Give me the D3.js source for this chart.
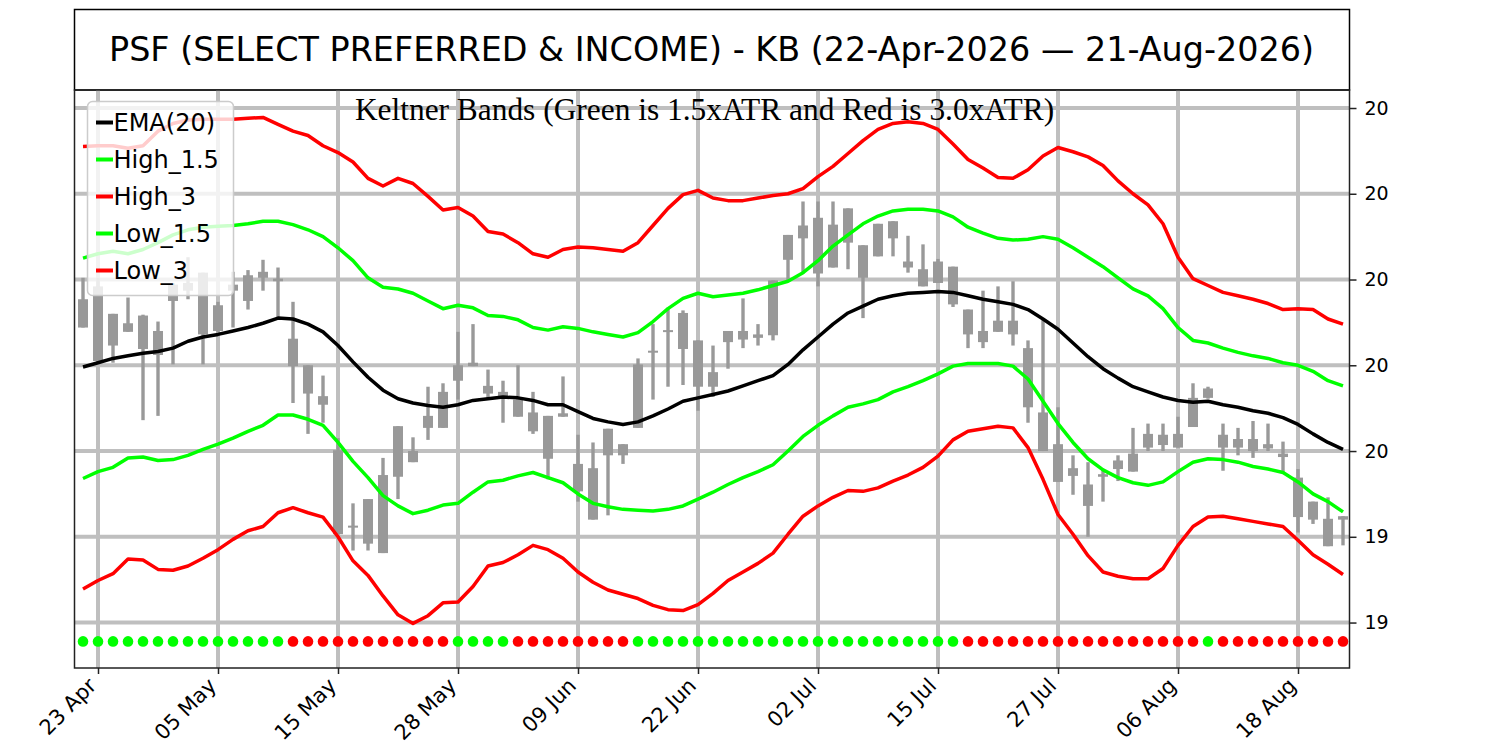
<!DOCTYPE html>
<html>
<head>
<meta charset="utf-8">
<script src="https://cdn.jsdelivr.net/npm/d3@7"></script>
<style>
  body { margin: 0; background: #fff; }
  text { font-family: "DejaVu Sans", sans-serif; }
</style>
</head>
<body>
<div id="chart"></div>
<script>
// trading days 22 Apr 2026 .. 21 Aug 2026
const dates = [
  "2026-04-22","2026-04-23","2026-04-24","2026-04-27","2026-04-28","2026-04-29","2026-04-30",
  "2026-05-01","2026-05-04","2026-05-05","2026-05-06","2026-05-07","2026-05-08","2026-05-11",
  "2026-05-12","2026-05-13","2026-05-14","2026-05-15","2026-05-18","2026-05-19","2026-05-20",
  "2026-05-21","2026-05-22","2026-05-26","2026-05-27","2026-05-28","2026-05-29",
  "2026-06-01","2026-06-02","2026-06-03","2026-06-04","2026-06-05","2026-06-08","2026-06-09",
  "2026-06-10","2026-06-11","2026-06-12","2026-06-15","2026-06-16","2026-06-17","2026-06-18",
  "2026-06-22","2026-06-23","2026-06-24","2026-06-25","2026-06-26","2026-06-29","2026-06-30",
  "2026-07-01","2026-07-02","2026-07-06","2026-07-07","2026-07-08","2026-07-09","2026-07-10",
  "2026-07-13","2026-07-14","2026-07-15","2026-07-16","2026-07-17","2026-07-20","2026-07-21",
  "2026-07-22","2026-07-23","2026-07-24","2026-07-27","2026-07-28","2026-07-29","2026-07-30",
  "2026-07-31","2026-08-03","2026-08-04","2026-08-05","2026-08-06","2026-08-07","2026-08-10",
  "2026-08-11","2026-08-12","2026-08-13","2026-08-14","2026-08-17","2026-08-18","2026-08-19",
  "2026-08-20","2026-08-21"
];

const opens = [
  19.644,19.692,19.623,19.649,19.658,19.612,19.675,19.696,19.636,19.670,
  19.687,19.675,19.702,19.701,19.631,19.600,19.554,19.501,19.413,19.392,
  19.381,19.470,19.500,19.527,19.527,19.582,19.599,19.576,19.569,19.560,
  19.545,19.541,19.540,19.485,19.480,19.495,19.508,19.527,19.615,19.639,
  19.661,19.629,19.575,19.627,19.630,19.636,19.635,19.723,19.748,19.772,
  19.714,19.743,19.740,19.727,19.748,19.721,19.712,19.721,19.715,19.665,
  19.627,19.639,19.652,19.620,19.545,19.508,19.480,19.461,19.470,19.479,
  19.476,19.504,19.519,19.504,19.528,19.562,19.519,19.504,19.514,19.508,
  19.497,19.469,19.420,19.421,19.420
];
const highs = [
  19.702,19.702,19.660,19.679,19.659,19.651,19.696,19.726,19.708,19.674,
  19.709,19.711,19.723,19.714,19.674,19.600,19.588,19.515,19.439,19.444,
  19.492,19.529,19.516,19.575,19.579,19.639,19.648,19.595,19.582,19.600,
  19.569,19.541,19.587,19.519,19.510,19.526,19.508,19.608,19.648,19.667,
  19.664,19.629,19.623,19.640,19.678,19.648,19.699,19.752,19.791,19.791,
  19.791,19.783,19.740,19.765,19.768,19.751,19.741,19.724,19.715,19.665,
  19.687,19.692,19.698,19.629,19.653,19.551,19.495,19.487,19.479,19.495,
  19.527,19.532,19.532,19.540,19.579,19.575,19.532,19.527,19.535,19.532,
  19.511,19.479,19.441,19.446,19.424
];
const lows = [
  19.644,19.603,19.603,19.639,19.536,19.541,19.601,19.677,19.601,19.638,
  19.644,19.665,19.687,19.656,19.556,19.520,19.533,19.403,19.384,19.384,
  19.381,19.444,19.487,19.513,19.527,19.560,19.599,19.560,19.533,19.540,
  19.520,19.467,19.540,19.441,19.420,19.425,19.485,19.527,19.560,19.575,
  19.577,19.547,19.563,19.596,19.620,19.623,19.629,19.698,19.707,19.692,
  19.714,19.712,19.655,19.727,19.727,19.708,19.692,19.696,19.668,19.620,
  19.620,19.639,19.623,19.533,19.500,19.464,19.449,19.400,19.441,19.465,
  19.476,19.500,19.500,19.504,19.528,19.561,19.477,19.495,19.492,19.500,
  19.474,19.405,19.415,19.389,19.390
];
const closes = [
  19.677,19.605,19.660,19.639,19.619,19.640,19.694,19.687,19.708,19.640,
  19.694,19.705,19.709,19.698,19.599,19.567,19.564,19.403,19.411,19.444,
  19.472,19.529,19.487,19.541,19.569,19.600,19.603,19.567,19.564,19.540,
  19.523,19.491,19.544,19.453,19.420,19.526,19.495,19.601,19.617,19.641,
  19.619,19.575,19.592,19.640,19.640,19.632,19.699,19.752,19.763,19.707,
  19.764,19.783,19.702,19.765,19.768,19.714,19.692,19.696,19.671,19.636,
  19.640,19.652,19.636,19.551,19.500,19.464,19.471,19.436,19.473,19.489,
  19.497,19.520,19.507,19.520,19.562,19.573,19.504,19.514,19.500,19.503,
  19.493,19.423,19.441,19.389,19.424
];

const ema20 = [
  19.598,19.603,19.608,19.611,19.614,19.616,19.620,19.628,19.633,19.636,
  19.640,19.644,19.649,19.655,19.654,19.648,19.639,19.623,19.604,19.586,
  19.571,19.561,19.556,19.553,19.551,19.554,19.559,19.561,19.563,19.562,
  19.559,19.554,19.554,19.546,19.538,19.534,19.531,19.534,19.541,19.549,
  19.558,19.562,19.566,19.570,19.576,19.582,19.588,19.601,19.618,19.633,
  19.648,19.661,19.669,19.677,19.681,19.684,19.685,19.686,19.685,19.681,
  19.677,19.674,19.671,19.665,19.654,19.642,19.626,19.610,19.596,19.585,
  19.575,19.569,19.563,19.559,19.557,19.558,19.554,19.551,19.547,19.544,
  19.539,19.531,19.520,19.510,19.502
];
const high15 = [
  19.725,19.730,19.733,19.730,19.735,19.743,19.752,19.758,19.761,19.762,
  19.763,19.765,19.768,19.768,19.764,19.758,19.750,19.737,19.722,19.702,
  19.691,19.689,19.684,19.675,19.666,19.670,19.667,19.658,19.657,19.653,
  19.644,19.641,19.645,19.643,19.639,19.636,19.633,19.638,19.651,19.666,
  19.678,19.684,19.680,19.682,19.684,19.688,19.693,19.698,19.708,19.722,
  19.739,19.752,19.765,19.774,19.780,19.782,19.782,19.780,19.773,19.761,
  19.754,19.748,19.746,19.747,19.750,19.747,19.737,19.726,19.715,19.702,
  19.689,19.681,19.666,19.644,19.629,19.626,19.620,19.615,19.611,19.608,
  19.603,19.600,19.593,19.582,19.576
];
const high3 = [
  19.855,19.856,19.856,19.853,19.856,19.873,19.882,19.886,19.887,19.887,
  19.887,19.888,19.889,19.881,19.873,19.868,19.856,19.848,19.837,19.818,
  19.809,19.818,19.812,19.797,19.781,19.784,19.774,19.756,19.753,19.743,
  19.730,19.726,19.735,19.738,19.737,19.735,19.733,19.743,19.763,19.783,
  19.799,19.804,19.795,19.792,19.792,19.795,19.798,19.800,19.806,19.820,
  19.832,19.847,19.862,19.875,19.882,19.884,19.882,19.875,19.858,19.840,
  19.830,19.819,19.818,19.828,19.844,19.854,19.849,19.843,19.833,19.815,
  19.800,19.787,19.765,19.726,19.701,19.693,19.685,19.681,19.677,19.672,
  19.665,19.666,19.665,19.654,19.648
];
const low15 = [
  19.468,19.476,19.481,19.492,19.493,19.489,19.490,19.495,19.502,19.508,
  19.515,19.523,19.530,19.542,19.542,19.537,19.530,19.510,19.488,19.469,
  19.448,19.436,19.427,19.431,19.437,19.439,19.452,19.464,19.466,19.471,
  19.475,19.469,19.463,19.450,19.439,19.435,19.432,19.431,19.430,19.432,
  19.436,19.444,19.452,19.461,19.469,19.476,19.484,19.500,19.517,19.530,
  19.541,19.551,19.555,19.560,19.569,19.575,19.582,19.590,19.599,19.602,
  19.602,19.602,19.599,19.584,19.558,19.532,19.510,19.491,19.478,19.469,
  19.463,19.460,19.464,19.476,19.487,19.491,19.490,19.487,19.482,19.479,
  19.475,19.464,19.450,19.441,19.429
];
const low3 = [
  19.339,19.349,19.357,19.374,19.373,19.362,19.361,19.366,19.375,19.385,
  19.397,19.407,19.412,19.428,19.434,19.428,19.423,19.400,19.372,19.355,
  19.331,19.309,19.299,19.308,19.323,19.324,19.342,19.366,19.370,19.379,
  19.390,19.385,19.375,19.359,19.347,19.338,19.333,19.328,19.320,19.315,
  19.314,19.321,19.334,19.349,19.359,19.369,19.381,19.403,19.424,19.436,
  19.446,19.454,19.453,19.457,19.465,19.472,19.481,19.494,19.513,19.523,
  19.526,19.529,19.527,19.504,19.467,19.426,19.403,19.378,19.359,19.354,
  19.351,19.351,19.363,19.390,19.412,19.423,19.424,19.421,19.418,19.415,
  19.412,19.396,19.379,19.368,19.356
];

// 1 = green dot, 0 = red dot
const signal = [
  1,1,1,1,1,1,1,1,1,1,1,1,1,1,
  0,0,0,0,0,0,0,0,0,0,0,
  1,1,1,1,
  0,0,0,0,0,0,0,0,
  1,1,1,1,1,1,1,1,1,1,1,1,1,1,1,1,1,1,1,1,1,1,
  0,0,0,0,0,0,0,0,0,0,0,0,0,0,0,0,
  1,
  0,0,0,0,0,0,0,0,0
];
const signalLevel = 19.278;

const yTicks = [19.3, 19.4, 19.5, 19.6, 19.7, 19.8, 19.9];
const xTickIdx = [1, 9, 17, 25, 33, 41, 49, 57, 65, 73, 81];

const seriesInfo = [
  { name: "EMA(20)", values: ema20, color: "#000000" },
  { name: "High_1.5", values: high15, color: "#00ff00" },
  { name: "High_3", values: high3, color: "#ff0000" },
  { name: "Low_1.5", values: low15, color: "#00ff00" },
  { name: "Low_3", values: low3, color: "#ff0000" }
];

const width = 1500, height = 750;
const box = { left: 74.5, right: 1349.5, top: 90, bottom: 668 };

const svg = d3.select("#chart").append("svg")
  .attr("width", width)
  .attr("height", height);

const x = d3.scaleLinear().domain([-0.567, 84.433]).range([box.left, box.right]);
const y = d3.scaleLinear().domain([19.247, 19.921]).range([box.bottom, box.top]);

// title box
svg.append("rect")
  .attr("x", box.left).attr("y", 9.5)
  .attr("width", box.right - box.left).attr("height", box.top - 9.5)
  .attr("fill", "none").attr("stroke", "#000").attr("stroke-width", 1.5);
svg.append("text")
  .attr("x", 711.5).attr("y", 61)
  .attr("text-anchor", "middle")
  .style("font-size", "33.4px")
  .text("PSF (SELECT PREFERRED & INCOME) - KB (22-Apr-2026 \u2014 21-Aug-2026)");

const plot = svg.append("g");

// grid
plot.append("g").selectAll("line.hg")
  .data(yTicks).enter().append("line")
  .attr("x1", box.left).attr("x2", box.right)
  .attr("y1", d => y(d)).attr("y2", d => y(d))
  .attr("stroke", "#bfbfbf").attr("stroke-width", 4);
plot.append("g").selectAll("line.vg")
  .data(xTickIdx).enter().append("line")
  .attr("x1", d => x(d)).attr("x2", d => x(d))
  .attr("y1", box.top).attr("y2", box.bottom)
  .attr("stroke", "#bfbfbf").attr("stroke-width", 4);

// candles
const idx = d3.range(dates.length);
const candles = plot.append("g");
candles.selectAll("line")
  .data(idx).enter().append("line")
  .attr("x1", i => x(i)).attr("x2", i => x(i))
  .attr("y1", i => y(highs[i])).attr("y2", i => y(lows[i]))
  .attr("stroke", "#999999").attr("stroke-width", 3.4);
candles.selectAll("rect")
  .data(idx).enter().append("rect")
  .attr("x", i => x(i) - 5)
  .attr("width", 10)
  .attr("y", i => y(Math.max(opens[i], closes[i])))
  .attr("height", i => Math.max(2, y(Math.min(opens[i], closes[i])) - y(Math.max(opens[i], closes[i]))))
  .attr("fill", "#999999");

// band lines
const line = d3.line().x((d, i) => x(i)).y(d => y(d));
plot.append("g").selectAll("path")
  .data(seriesInfo).enter().append("path")
  .attr("d", d => line(d.values))
  .attr("fill", "none")
  .attr("stroke", d => d.color)
  .attr("stroke-width", 3.5)
  .attr("stroke-linejoin", "round");

// signal dots
plot.append("g").selectAll("circle")
  .data(idx).enter().append("circle")
  .attr("cx", i => x(i))
  .attr("cy", y(signalLevel))
  .attr("r", 5.3)
  .attr("fill", i => signal[i] ? "#00ff00" : "#ff0000");

// subtitle
svg.append("text")
  .attr("x", 704.5).attr("y", 120)
  .attr("text-anchor", "middle")
  .style("font-family", "'Liberation Serif', 'Times New Roman', serif")
  .style("font-size", "31.4px")
  .text("Keltner Bands (Green is 1.5xATR and Red is 3.0xATR)");

// axes frame
svg.append("rect")
  .attr("x", box.left).attr("y", box.top)
  .attr("width", box.right - box.left).attr("height", box.bottom - box.top)
  .attr("fill", "none").attr("stroke", "#222").attr("stroke-width", 1.5);

// right y axis
const yAxis = svg.append("g")
  .attr("transform", `translate(${box.right},0)`)
  .call(d3.axisRight(y).tickValues(yTicks).tickFormat(d => Math.round(d)).tickSize(7).tickPadding(8));
yAxis.select(".domain").remove();
yAxis.selectAll(".tick line").attr("stroke", "#222").attr("stroke-width", 1.5);
yAxis.selectAll(".tick text").style("font-size", "19px").style("font-family", "'DejaVu Sans'").attr("fill", "#000");

// bottom x axis
const fmt = d3.timeFormat("%d %b");
const parse = d3.timeParse("%Y-%m-%d");
const xAxis = svg.append("g")
  .attr("transform", `translate(0,${box.bottom})`)
  .call(d3.axisBottom(x).tickValues(xTickIdx).tickFormat(i => fmt(parse(dates[i]))).tickSize(6));
xAxis.select(".domain").remove();
xAxis.selectAll(".tick line").attr("stroke", "#222").attr("stroke-width", 1.5);
xAxis.selectAll(".tick text")
  .style("font-size", "21px").style("font-family", "'DejaVu Sans'").attr("fill", "#000")
  .attr("text-anchor", "end")
  .attr("dy", null)
  .attr("y", 0)
  .attr("transform", "translate(-1,19) rotate(-45)");

// legend
const legend = svg.append("g").attr("transform", "translate(87.5,101.5)");
legend.append("rect")
  .attr("width", 146).attr("height", 194).attr("rx", 5)
  .attr("fill", "#fff").attr("fill-opacity", 0.8)
  .attr("stroke", "#cccccc").attr("stroke-width", 1.5);
const items = legend.selectAll("g.item")
  .data(seriesInfo).enter().append("g")
  .attr("transform", (d, i) => `translate(0,${21 + i * 37})`);
items.append("line")
  .attr("x1", 8.5).attr("x2", 25.5)
  .attr("stroke", d => d.color).attr("stroke-width", 4);
items.append("text")
  .attr("x", 26).attr("y", 8.5)
  .style("font-size", "24px")
  .text(d => d.name);
</script>
</body>
</html>
